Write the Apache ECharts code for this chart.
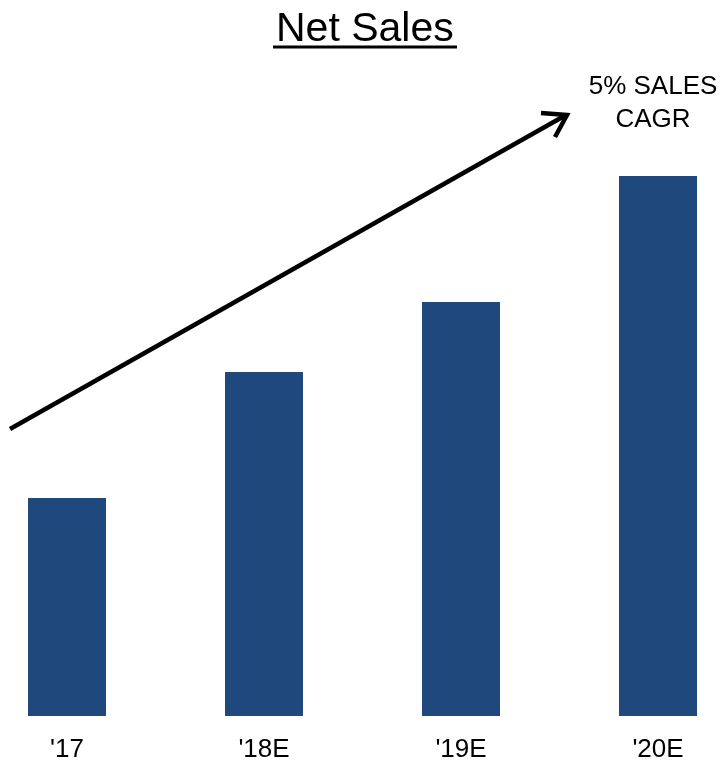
<!DOCTYPE html>
<html>
<head>
<meta charset="utf-8">
<script src="https://cdn.jsdelivr.net/npm/echarts@6/dist/echarts.min.js"></script>
<style>
  html, body { margin: 0; padding: 0; background: #fff; }
  #chart { width: 722px; height: 764px; }
</style>
</head>
<body>
<div id="chart"></div>
<script>
// Net sales by year (relative bar heights)
const years = ["'17", "'18E", "'19E", "'20E"];
const netSales = [218, 344, 414, 540];
const cagrNote = '5% SALES\nCAGR';

const chart = echarts.init(document.getElementById('chart'));
const font = 'Arial, "Liberation Sans", sans-serif';

chart.setOption({
  animation: false,
  backgroundColor: '#ffffff',
  title: {
    text: 'Net Sales',
    left: 271,
    top: 4,
    textStyle: { fontFamily: font, fontSize: 41, fontWeight: 'normal', color: '#000' }
  },
  grid: { left: 67, right: 64, top: 16, bottom: 48 },
  xAxis: {
    type: 'category',
    data: years,
    boundaryGap: false,
    axisLine: { show: false },
    axisTick: { show: false },
    axisLabel: { fontFamily: font, fontSize: 26, color: '#000', margin: 21 }
  },
  yAxis: {
    type: 'value',
    min: 0,
    max: 700,
    show: false,
    splitLine: { show: false }
  },
  series: [{
    type: 'bar',
    data: netSales,
    barWidth: 78,
    itemStyle: { color: '#1f497d' }
  }],
  graphic: [
    // title underline
    { type: 'line', shape: { x1: 273, y1: 47, x2: 457, y2: 47 }, style: { stroke: '#000', lineWidth: 3 } },
    // growth arrow
    { type: 'line', shape: { x1: 10, y1: 429, x2: 566, y2: 115 }, style: { stroke: '#000', lineWidth: 4.5 } },
    { type: 'polyline', shape: { points: [[541, 113], [567, 115], [555, 137]] },
      style: { stroke: '#000', lineWidth: 4.5, fill: null, lineJoin: 'miter' } },
    { type: 'text',
      style: { x: 653, y: 70, text: cagrNote, fontFamily: font, fontSize: 26, fill: '#000',
               align: 'center', verticalAlign: 'top', lineHeight: 33 } }
  ]
});
</script>
</body>
</html>
